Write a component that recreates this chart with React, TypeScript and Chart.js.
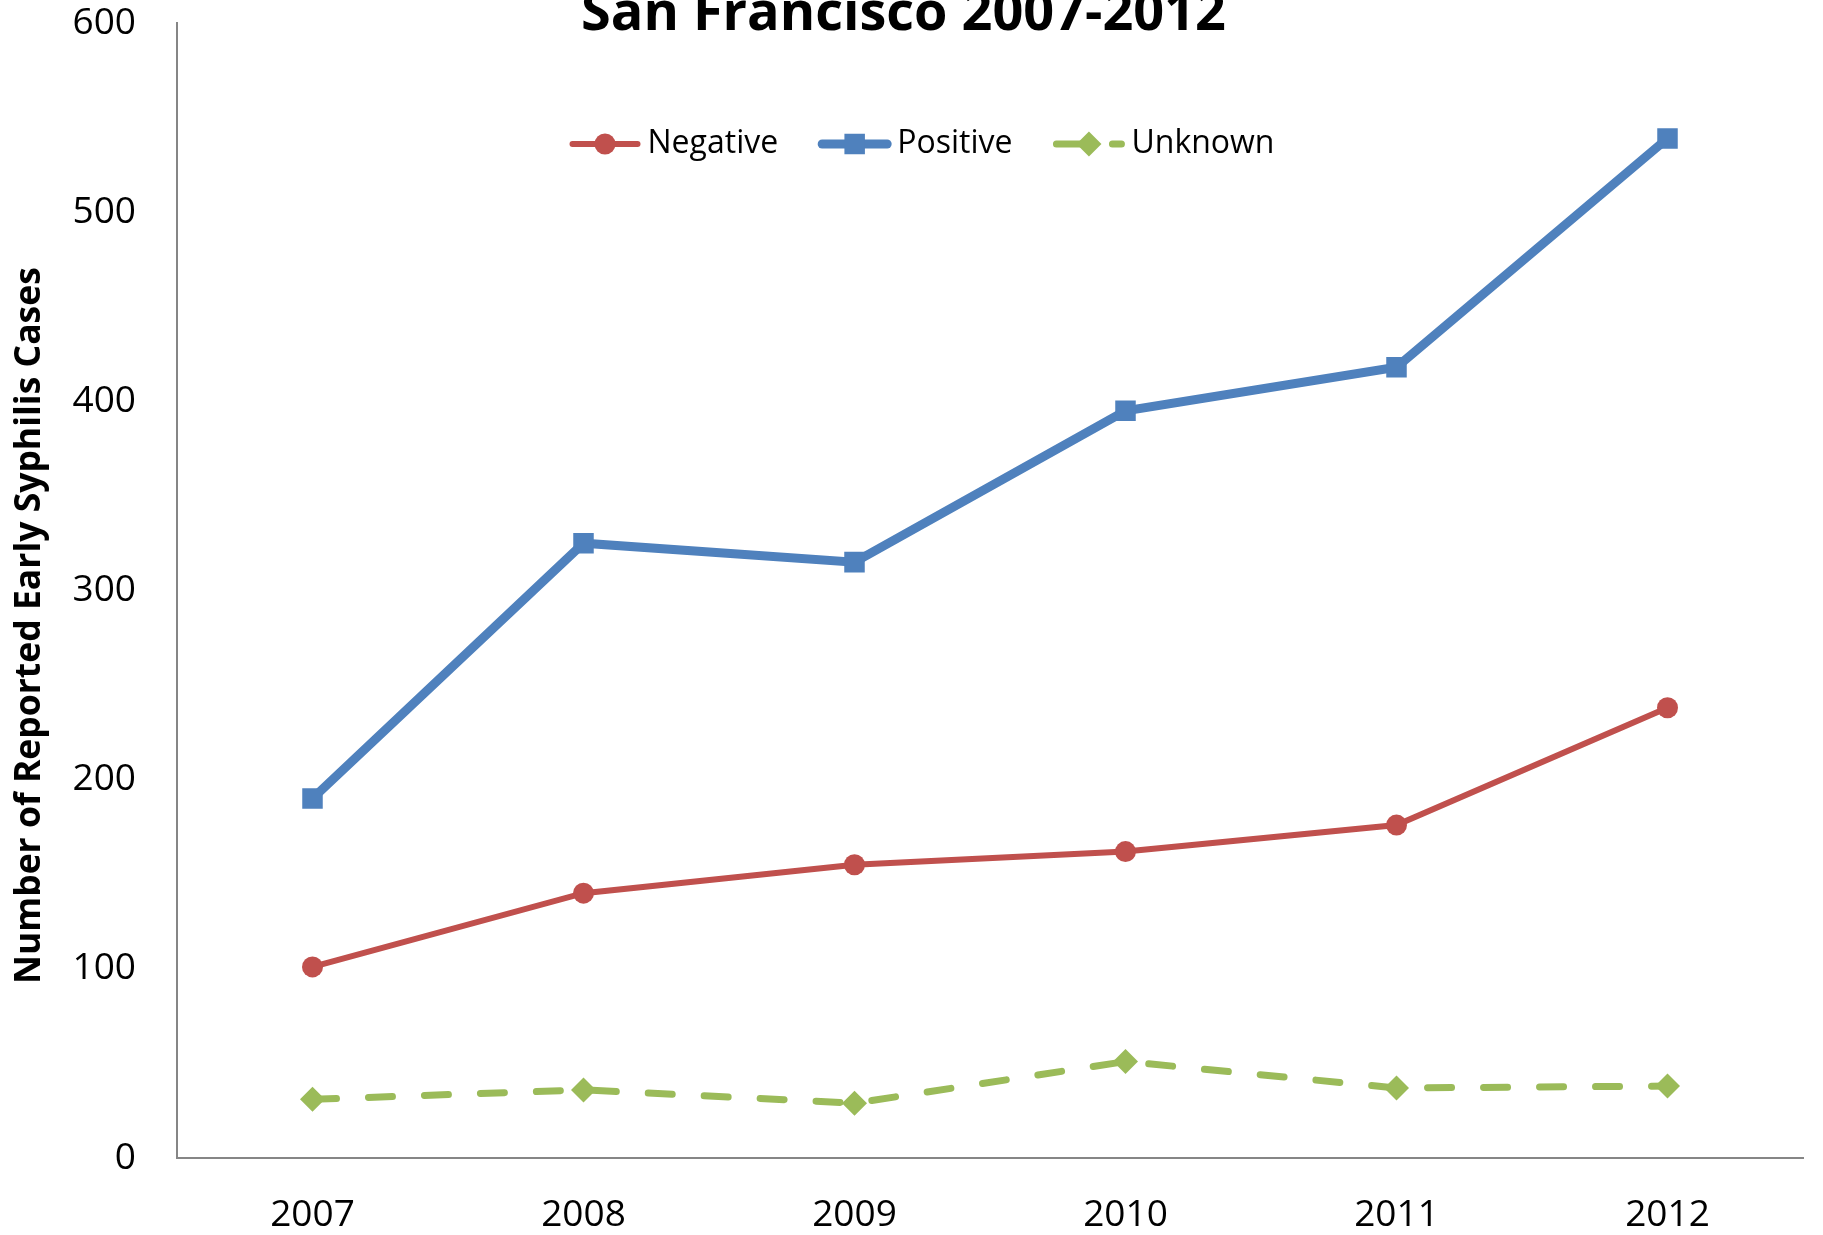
import React, { useEffect, useRef } from "react";
import { Chart, registerables } from "chart.js";

Chart.register(...registerables);

// ---- Data ----
const years = ["2007", "2008", "2009", "2010", "2011", "2012"];
const negativeCases = [101, 140, 155, 162, 176, 238];
const positiveCases = [190, 325, 315, 395, 418, 539];
const unknownCases = [31, 36, 29, 51, 37, 38];
const seriesNames = ["Negative", "Positive", "Unknown"];
const yMin = 0;
const yMax = 600;
const yStep = 100;
const chartTitle = "San Francisco 2007-2012";
const yAxisTitle = "Number of Reported Early Syphilis Cases";

const FONT = "'Open Sans', 'DejaVu Sans', sans-serif";

function drawMarker(ctx: CanvasRenderingContext2D, style: string, r: number, x: number, y: number, color: string) {
  ctx.save();
  ctx.fillStyle = color;
  ctx.beginPath();
  if (style === "circle") {
    ctx.arc(x, y, r, 0, Math.PI * 2);
  } else if (style === "rect") {
    const s = Math.SQRT1_2 * r;
    ctx.rect(x - s, y - s, 2 * s, 2 * s);
  } else {
    ctx.moveTo(x - r, y);
    ctx.lineTo(x, y - r);
    ctx.lineTo(x + r, y);
    ctx.lineTo(x, y + r);
    ctx.closePath();
  }
  ctx.fill();
  ctx.restore();
}

const titlePlugin = {
  id: "topTitle",
  afterDraw(chart: any) {
    const ctx = chart.ctx as CanvasRenderingContext2D;
    ctx.save();
    ctx.font = `bold 54px ${FONT}`;
    ctx.fillStyle = "#000";
    ctx.textAlign = "center";
    ctx.textBaseline = "alphabetic";
    ctx.fillText(chartTitle, chart.width / 2 - 8, 30);
    ctx.restore();
  },
};

const yTitlePlugin = {
  id: "yAxisTitle",
  afterDraw(chart: any) {
    const ctx = chart.ctx as CanvasRenderingContext2D;
    const area = chart.chartArea;
    ctx.save();
    ctx.translate(30, (area.top + area.bottom) / 2 + 35);
    ctx.rotate(-Math.PI / 2);
    ctx.font = `bold 35.5px ${FONT}`;
    ctx.fillStyle = "#000";
    ctx.textAlign = "center";
    ctx.textBaseline = "middle";
    ctx.fillText(yAxisTitle, 0, 0);
    ctx.restore();
  },
};

const legendPlugin = {
  id: "lineLegend",
  afterDraw(chart: any) {
    const ctx = chart.ctx as CanvasRenderingContext2D;
    ctx.save();
    ctx.font = `32px ${FONT}`;
    const lineLen = 73;
    const textGap = 6;
    const itemGap = 40;
    const items = chart.data.datasets.map((ds: any) => ({
      ds,
      w: lineLen + textGap + ctx.measureText(ds.label).width,
    }));
    const total = items.reduce((s: number, i: any) => s + i.w, 0) + itemGap * (items.length - 1);
    let x = chart.width / 2 + 10 - total / 2;
    const y = chart.chartArea.top + 121;
    items.forEach(({ ds, w }: any) => {
      ctx.save();
      ctx.strokeStyle = ds.borderColor;
      ctx.lineWidth = ds.borderWidth;
      ctx.lineCap = "round";
      ctx.setLineDash(ds.borderDash || []);
      ctx.beginPath();
      ctx.moveTo(x + 4, y);
      ctx.lineTo(x + lineLen - 4, y);
      ctx.stroke();
      ctx.restore();
      drawMarker(ctx, ds.pointStyle, ds.pointRadius, x + lineLen / 2, y, ds.pointBackgroundColor);
      ctx.fillStyle = "#000";
      ctx.textAlign = "left";
      ctx.textBaseline = "middle";
      ctx.fillText(ds.label, x + lineLen + textGap, y);
      x += w + itemGap;
    });
    ctx.restore();
  },
};

export default function App() {
  const canvasRef = useRef<HTMLCanvasElement | null>(null);

  useEffect(() => {
    if (!canvasRef.current) return;
    const chart = new Chart(canvasRef.current, {
      type: "line",
      data: {
        labels: years,
        datasets: [
          {
            label: seriesNames[0],
            data: negativeCases,
            borderColor: "#C0504D",
            backgroundColor: "#C0504D",
            pointBackgroundColor: "#C0504D",
            borderWidth: 6,
            pointStyle: "circle",
            pointRadius: 10.5,
            pointBorderWidth: 0,
            tension: 0,
          },
          {
            label: seriesNames[1],
            data: positiveCases,
            borderColor: "#4F81BD",
            backgroundColor: "#4F81BD",
            pointBackgroundColor: "#4F81BD",
            borderWidth: 9,
            pointStyle: "rect",
            pointRadius: 14.5,
            pointBorderWidth: 0,
            tension: 0,
          },
          {
            label: seriesNames[2],
            data: unknownCases,
            borderColor: "#9BBB59",
            backgroundColor: "#9BBB59",
            pointBackgroundColor: "#9BBB59",
            borderWidth: 7,
            borderDash: [24, 32],
            borderCapStyle: "round",
            pointStyle: "rectRot",
            pointRadius: 12.5,
            pointBorderWidth: 0,
            tension: 0,
          },
        ],
      },
      options: {
        animation: false,
        responsive: false,
        layout: { padding: { top: 23, right: 20, bottom: 0, left: 0 } },
        plugins: {
          legend: { display: false },
          title: { display: false },
          tooltip: { enabled: false },
        },
        scales: {
          x: {
            type: "category",
            offset: true,
            grid: { display: false, drawTicks: false },
            border: { display: true, color: "#868686", width: 2 },
            ticks: {
              color: "#000",
              font: { family: FONT, size: 37, lineHeight: 1 },
              padding: 39,
              maxRotation: 0,
              autoSkip: false,
            },
            afterFit(scale: any) {
              scale.height = 77;
              scale.paddingLeft = 0;
              scale.paddingRight = 0;
            },
          },
          y: {
            min: yMin,
            max: yMax,
            grid: { display: false, drawTicks: false },
            border: { display: true, color: "#868686", width: 2 },
            ticks: {
              stepSize: yStep,
              color: "#000",
              font: { family: FONT, size: 37, lineHeight: 1 },
              padding: 41,
            },
            title: { display: false },
            afterFit(scale: any) {
              scale.width = 177;
              scale.paddingTop = 0;
              scale.paddingBottom = 0;
            },
          },
        },
      },
      plugins: [titlePlugin, yTitlePlugin, legendPlugin],
    } as any);
    return () => chart.destroy();
  }, []);

  return (
    <div style={{ position: "absolute", left: 0, top: 0, width: 1823, height: 1235, overflow: "hidden", background: "#fff" }}>
      <canvas ref={canvasRef} width={1823} height={1235} style={{ display: "block" }} />
    </div>
  );
}
